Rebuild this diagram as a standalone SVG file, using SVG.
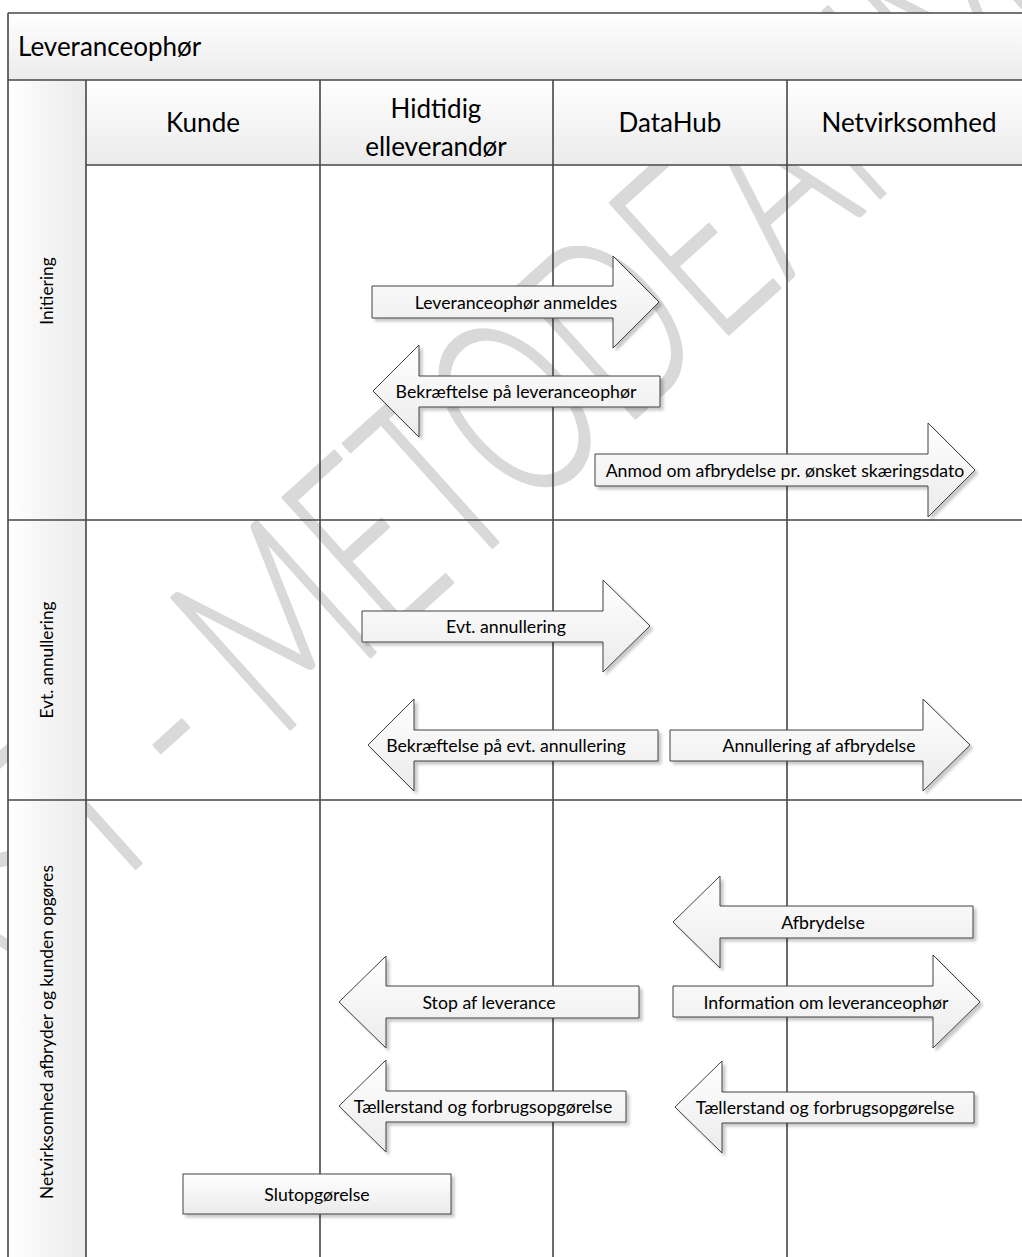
<svg xmlns="http://www.w3.org/2000/svg" width="1022" height="1257" viewBox="0 0 1022 1257">
<defs>
<linearGradient id="gV" x1="0" y1="0" x2="0" y2="1"><stop offset="0" stop-color="#ffffff"/><stop offset="1" stop-color="#ebebeb"/></linearGradient>
<linearGradient id="gH" x1="0" y1="0" x2="1" y2="0"><stop offset="0" stop-color="#ffffff"/><stop offset="1" stop-color="#ebebeb"/></linearGradient>
<filter id="sh" x="-10%" y="-30%" width="130%" height="180%">
<feGaussianBlur in="SourceAlpha" stdDeviation="1.5"/>
<feOffset dx="3" dy="3"/>
<feComponentTransfer><feFuncA type="linear" slope="0.22"/></feComponentTransfer>
<feMerge><feMergeNode/><feMergeNode in="SourceGraphic"/></feMerge>
</filter>
<style>
.ln{stroke:#474747;stroke-width:1.6;fill:none}
.arw{fill:url(#gV);stroke:#404040;stroke-width:1;filter:url(#sh)}
.t{font-family:Lato,"Liberation Sans",sans-serif;fill:#000}
.h{font-size:26px;text-anchor:middle}
.lbl{font-size:17.7px;text-anchor:middle}
.ph{font-size:17.3px;text-anchor:middle}
.wm{font-family:Lato,"Liberation Sans",sans-serif;font-weight:300;font-size:250px;fill:#d9d9d9;stroke:#d9d9d9;stroke-width:3;stroke-linejoin:round}
</style>
</defs>
<rect x="0" y="0" width="1022" height="1257" fill="#ffffff"/>
<g id="watermark" transform="translate(137,867) rotate(-42) scale(0.66,1)">
<text class="wm" x="75" y="0" text-anchor="end">UDKAST</text>
<text class="wm" x="125" y="0">- METODEANMELDELSE</text>
</g>
<g id="lanes">
<rect id="title-bar" x="8" y="13" width="1030" height="67" fill="url(#gV)"/>
<rect x="86" y="80" width="952" height="85" fill="url(#gV)"/>
<rect x="8" y="80" width="78" height="440" fill="url(#gH)"/>
<rect x="8" y="520" width="78" height="280" fill="url(#gH)"/>
<rect x="8" y="800" width="78" height="470" fill="url(#gH)"/>
<path class="ln" d="M8 13H1022M8 13V1257M8 80H1022M86 165H1022M8 520H1022M8 800H1022M86 80V1257M320 80V1257M553 80V1257M787 80V1257"/>
<text class="t" x="18" y="56" font-size="26">Leveranceophør</text>
<text class="t h" x="203" y="132">Kunde</text>
<text class="t h" x="436" y="118">Hidtidig</text>
<text class="t h" x="436" y="156">elleverandør</text>
<text class="t h" x="670" y="132">DataHub</text>
<text class="t h" x="909" y="132">Netvirksomhed</text>
<text class="t ph" transform="translate(52.5,291) rotate(-90)">Initiering</text>
<text class="t ph" transform="translate(52.5,660) rotate(-90)">Evt. annullering</text>
<text class="t ph" transform="translate(52.5,1032) rotate(-90)">Netvirksomhed afbryder og kunden opgøres</text>
</g>
<g id="connectors"></g>
<g id="n1"><path class="arw" d="M372 286H613V256L659 302L613 348V318H372Z"/><text class="t lbl" x="516" y="308.5">Leveranceophør anmeldes</text></g>
<g id="n2"><path class="arw" d="M660 376H419V345L373 391L419 437V407H660Z"/><text class="t lbl" x="516" y="397.5">Bekræftelse på leveranceophør</text></g>
<g id="n3"><path class="arw" d="M595 454H928V423L975 470L928 517V486H595Z"/><text class="t lbl" x="785" y="476.5">Anmod om afbrydelse pr. ønsket skæringsdato</text></g>
<g id="n4"><path class="arw" d="M362 611H603V580L650 626L603 672V642H362Z"/><text class="t lbl" x="506" y="632.5">Evt. annullering</text></g>
<g id="n5"><path class="arw" d="M658 730H414V699L368 745L414 791V761H658Z"/><text class="t lbl" x="506" y="751.5">Bekræftelse på evt. annullering</text></g>
<g id="n6"><path class="arw" d="M670 730H923V699L970 745L923 791V761H670Z"/><text class="t lbl" x="819" y="751.5">Annullering af afbrydelse</text></g>
<g id="n7"><path class="arw" d="M973 906H720V876L673 922L720 968V938H973Z"/><text class="t lbl" x="823" y="928.5">Afbrydelse</text></g>
<g id="n8"><path class="arw" d="M673 986H933V955L980 1002L933 1048V1017H673Z"/><text class="t lbl" x="826" y="1008.5">Information om leveranceophør</text></g>
<g id="n9"><path class="arw" d="M974 1092H722V1061L675 1107L722 1153V1123H974Z"/><text class="t lbl" x="825" y="1113.5">Tællerstand og forbrugsopgørelse</text></g>
<g id="n10"><path class="arw" d="M639 986H386V956L339 1002L386 1048V1018H639Z"/><text class="t lbl" x="489" y="1008.5">Stop af leverance</text></g>
<g id="n11"><path class="arw" d="M626 1091H386V1060L339 1106L386 1152V1122H626Z"/><text class="t lbl" x="483" y="1112.5">Tællerstand og forbrugsopgørelse</text></g>
<g id="n12"><rect class="arw" x="183" y="1174" width="268" height="40"/><text class="t lbl" x="317" y="1200.5">Slutopgørelse</text></g>
</svg>
